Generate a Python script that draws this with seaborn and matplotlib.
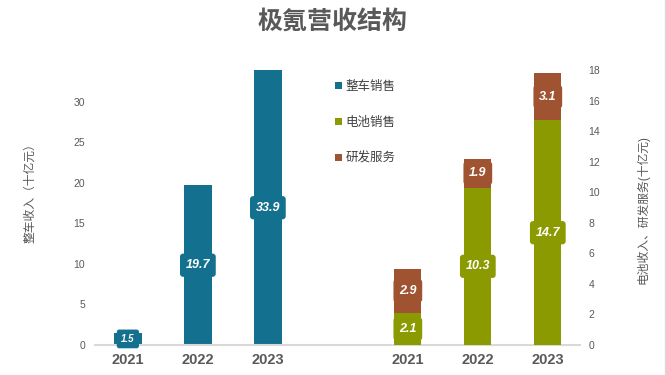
import matplotlib
matplotlib.use('Agg')
import matplotlib.pyplot as plt
from matplotlib.patches import Patch
from matplotlib.lines import Line2D
import seaborn as sns
import pandas as pd

# ---- data ----
years = ['2021', '2022', '2023']
vehicle_sales = [1.5, 19.7, 33.9]     # 整车销售 (left axis)
battery_sales = [2.1, 10.3, 14.7]     # 电池销售 (right axis)
rd_services = [2.9, 1.9, 3.1]         # 研发服务 (right axis)
series_names = ['整车销售', '电池销售', '研发服务']
left_ticks = [0, 5, 10, 15, 20, 25, 30]
right_ticks = [0, 2, 4, 6, 8, 10, 12, 14, 16, 18]
title = '极氪营收结构'
left_label = '整车收入（十亿元）'
right_label = '电池收入、研发服务(十亿元)'

c_teal = '#13708F'
c_green = '#8B9A00'
c_brown = '#9F5331'
gray = '#595959'

sns.set_theme(style='white')
plt.rcParams['font.family'] = ['Liberation Sans', 'Noto Sans CJK SC']

fig = plt.figure(figsize=(6.66, 3.75), dpi=100)
ax = fig.add_axes([95/666, 1-345/375, 485/666, 275/375])
ax2 = ax.twinx()

left_pos = [0, 1, 2]
right_pos = [4, 5, 6]
df_left = pd.DataFrame({'pos': left_pos, 'value': vehicle_sales})
df_right = pd.DataFrame({'pos': right_pos, 'battery': battery_sales, 'rd': rd_services})
df_right['total'] = df_right['battery'] + df_right['rd']

bw = 0.39
sns.barplot(data=df_left, x='pos', y='value', native_scale=True, color=c_teal,
            saturation=1, width=bw, linewidth=0, ax=ax)
sns.barplot(data=df_right, x='pos', y='total', native_scale=True, color=c_brown,
            saturation=1, width=bw, linewidth=0, ax=ax2)
sns.barplot(data=df_right, x='pos', y='battery', native_scale=True, color=c_green,
            saturation=1, width=bw, linewidth=0, ax=ax2)

ax.set_xlim(-0.47, 6.46)
ax.set_ylim(0, 33.95)
ax2.set_ylim(0, 18)

def label(a, x, y, v, color, fs=9):
    a.text(x, y, f'{v}', ha='center', va='center', color='white', fontsize=fs,
           fontstyle='italic', fontweight='bold', zorder=5,
           bbox=dict(boxstyle='round,pad=0.45,rounding_size=0.25', fc=color, ec='none'))

for p, v in zip(left_pos, vehicle_sales):
    label(ax, p, v / 2, v, c_teal, fs=7 if v < 5 else 9)
for p, b, r in zip(right_pos, battery_sales, rd_services):
    label(ax2, p, b / 2, b, c_green)
    label(ax2, p, b + r / 2, r, c_brown)

for a in (ax, ax2):
    for s in a.spines.values():
        s.set_visible(False)
    a.set_xlabel('')
    a.set_ylabel('')
    a.grid(False)
ax.spines['bottom'].set_visible(True)
ax.spines['bottom'].set_color('#D9D9D9')
ax.spines['bottom'].set_linewidth(1.5)

ax.set_xticks(left_pos + right_pos)
ax.set_xticklabels(years + years, fontweight='bold')
ax.tick_params(axis='x', length=0, pad=6, labelsize=10.5, labelcolor=gray)
ax.set_yticks(left_ticks)
ax.tick_params(axis='y', length=0, pad=7, labelsize=7.5, labelcolor=gray)
ax2.set_yticks(right_ticks)
ax2.tick_params(axis='y', length=0, pad=6, labelsize=7.5, labelcolor=gray)

fig.text(0.5, 1 - 22/375, title, ha='center', va='center', fontsize=18,
         fontweight='bold', color=gray)
fig.text(30/666, 1 - 190/375, left_label, rotation=90, ha='center', va='center',
         fontsize=8.5, color=gray)
fig.text(643/666, 1 - 210/375, right_label, rotation=90, ha='center', va='center',
         fontsize=8.5, color=gray)

handles = [Patch(fc=c, ec='none') for c in (c_teal, c_green, c_brown)]
fig.legend(handles, series_names, loc='upper left', bbox_to_anchor=(324/666, 1 - 70/375),
           frameon=False, handlelength=0.5, handleheight=0.5, handletextpad=0.3,
           labelspacing=1.9, fontsize=9, labelcolor='#404040')

fig.add_artist(Line2D([0.9985, 0.9985], [0, 1], color='#D9D9D9', lw=1))

fig.savefig('out.png', dpi=100)
